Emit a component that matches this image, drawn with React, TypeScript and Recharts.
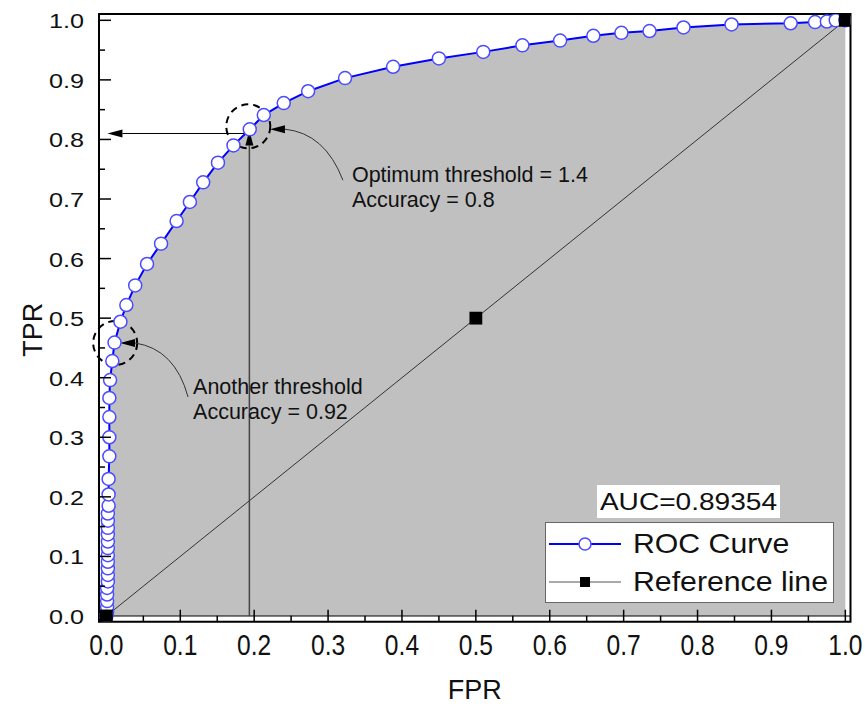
import React from "react";
import { ComposedChart, Area, Line, XAxis, YAxis, ReferenceLine, ReferenceDot, ReferenceArea, Legend, Label } from "recharts";

// ROC curve points (FPR, TPR)
const rocFpr = [
  0.0, 0.001, 0.001, 0.001, 0.001, 0.001, 0.002, 0.002, 0.002, 0.002, 0.002, 0.002, 0.002, 0.002, 0.002, 0.002,
  0.002, 0.003, 0.003, 0.003, 0.004, 0.004, 0.004, 0.004, 0.005, 0.008, 0.011, 0.019, 0.027, 0.039, 0.055, 0.074,
  0.095, 0.113, 0.131, 0.151, 0.172, 0.194, 0.213, 0.24, 0.273, 0.323, 0.388, 0.45, 0.51, 0.563, 0.614, 0.659,
  0.697, 0.735, 0.781, 0.846, 0.926, 0.959, 0.975, 0.987, 1.0,
];
const rocTpr = [
  0.0, 0.006, 0.015, 0.025, 0.036, 0.047, 0.058, 0.069, 0.08, 0.091, 0.102, 0.114, 0.125, 0.137, 0.148, 0.16,
  0.172, 0.185, 0.204, 0.23, 0.268, 0.3, 0.334, 0.366, 0.396, 0.428, 0.459, 0.494, 0.522, 0.555, 0.591, 0.625,
  0.663, 0.695, 0.728, 0.761, 0.79, 0.817, 0.841, 0.861, 0.881, 0.903, 0.922, 0.936, 0.947, 0.958, 0.966, 0.974,
  0.979, 0.982, 0.988, 0.993, 0.995, 0.997, 0.998, 1.0, 1.0,
];

const refFpr = [0, 0.5, 1];
const refTpr = [0, 0.5, 1];

const tickValues = [
  0, 0.05, 0.1, 0.15, 0.2, 0.25, 0.3, 0.35, 0.4, 0.45, 0.5, 0.55, 0.6, 0.65, 0.7, 0.75, 0.8, 0.85, 0.9, 0.95, 1,
];
const tickLabels = ["0.0", "0.1", "0.2", "0.3", "0.4", "0.5", "0.6", "0.7", "0.8", "0.9", "1.0"];

const optimum = { fpr: 0.1935, tpr: 0.815, arrowTpr: 0.81, circleFpr: 0.192, circleTpr: 0.822, tipFpr: 0.2213, tipTpr: 0.8172 };
const another = { circleFpr: 0.0119, circleTpr: 0.4583, tipFpr: 0.0185, tipTpr: 0.4583 };
const aucText = "AUC=0.89354";

const rocData = rocFpr.map((x, i) => ({ fpr: x, roc: rocTpr[i] }));
const refData = refFpr.map((x, i) => ({ fpr: x, ref: refTpr[i] }));

const FONT = "'Liberation Sans', Arial, sans-serif";

const labelFor = (v: number) => {
  const k = Math.round(v * 100);
  return k % 10 === 0 ? tickLabels[k / 10] : null;
};

const YTick = (p: any) => {
  const { x, y, payload } = p;
  const lab = labelFor(payload.value);
  return (
    <g>
      <line x1={x} y1={y} x2={x + (lab ? 12 : 6)} y2={y} stroke="#000" strokeWidth={1.5} />
      {lab && (
        <text transform={`translate(${x - 15},${y + 8}) scale(1.2,1)`} textAnchor="end" fontSize={21} fontFamily={FONT} fill="#111">
          {lab}
        </text>
      )}
    </g>
  );
};

const XTick = (p: any) => {
  const { x, y, payload } = p;
  const lab = labelFor(payload.value);
  return (
    <g>
      <line x1={x} y1={y} x2={x} y2={y - (lab ? 12 : 6)} stroke="#000" strokeWidth={1.5} />
      {lab && (
        <text transform={`translate(${x},${y + 33}) scale(0.82,1)`} textAnchor="middle" fontSize={30} fontFamily={FONT} fill="#111">
          {lab}
        </text>
      )}
    </g>
  );
};

const ArrowSeg = (p: any) => {
  const { x1, y1, x2, y2 } = p;
  const a = Math.atan2(y2 - y1, x2 - x1);
  const L = 15;
  const W = 4;
  const bx = x2 - L * Math.cos(a);
  const by = y2 - L * Math.sin(a);
  const px = -Math.sin(a) * W;
  const py = Math.cos(a) * W;
  return (
    <g>
      <line x1={x1} y1={y1} x2={bx} y2={by} stroke={p.stroke} strokeWidth={p.strokeWidth} />
      <polygon points={`${x2},${y2} ${bx + px},${by + py} ${bx - px},${by - py}`} fill="#000" />
    </g>
  );
};

const CurvedNote = (lines: string[], c: number[], end: number[], text: number[]) => (p: any) => {
  const { cx, cy } = p;
  return (
    <g>
      <polygon points={`${cx},${cy} ${cx + 15},${cy - 4} ${cx + 15},${cy + 4}`} fill="#000" />
      <path d={`M${cx + 15},${cy} Q${cx + c[0]},${cy + c[1]} ${cx + end[0]},${cy + end[1]}`} stroke="#333" strokeWidth={1} fill="none" />
      {lines.map((t, i) => (
        <text key={i} x={cx + text[0]} y={cy + text[1] + i * 25} fontSize={21.5} fontFamily={FONT} fill="#111">
          {t}
        </text>
      ))}
    </g>
  );
};

const Square = (p: any) => {
  const { cx, cy } = p;
  if (cx == null || cy == null) return <g />;
  return <rect x={cx - 6.4} y={cy - 6.4} width={12.8} height={12.8} fill="#000" />;
};

const LegendBox = () => (
  <div style={{ position: "relative", width: 292, height: 120, fontFamily: FONT, color: "#111" }}>
    <div style={{ position: "absolute", left: 52, top: 0, width: 183, height: 33, background: "#fff" }}>
      <div style={{ fontSize: 24, lineHeight: "33px", textAlign: "center", transform: "scaleX(1.17)" }}>{aucText}</div>
    </div>
    <div style={{ position: "absolute", left: 0, top: 37, width: 289, height: 81, background: "#fff", border: "1px solid #666", boxSizing: "border-box" }}>
      <svg width={80} height={80} style={{ position: "absolute", left: 0, top: 0 }}>
        <line x1={3} y1={21} x2={75} y2={21} stroke="#0000ff" strokeWidth={2} />
        <circle cx={39} cy={21} r={6} fill="#fff" stroke="#4b4bff" strokeWidth={1.5} />
        <line x1={3} y1={59} x2={75} y2={59} stroke="#555" strokeWidth={1} />
        <rect x={34} y={54} width={10} height={10} fill="#000" />
      </svg>
      <div style={{ position: "absolute", left: 87, top: 2, fontSize: 28, lineHeight: "38px", whiteSpace: "nowrap", transform: "scaleX(1.08)", transformOrigin: "left" }}>ROC Curve</div>
      <div style={{ position: "absolute", left: 87, top: 40, fontSize: 28, lineHeight: "38px", whiteSpace: "nowrap", transform: "scaleX(1.08)", transformOrigin: "left" }}>Reference line</div>
    </div>
  </div>
);

export default function App() {
  return (
    <div style={{ position: "absolute", left: 0, top: 0, background: "#fff" }}>
      <ComposedChart width={865} height={711} margin={{ top: 14, right: 14.5, left: 0, bottom: 0 }}>
        <XAxis
          type="number"
          dataKey="fpr"
          domain={[-0.01, 1.007]}
          allowDataOverflow
          ticks={tickValues}
          interval={0}
          tick={<XTick />}
          tickLine={false}
          tickSize={0}
          tickMargin={0}
          axisLine={false}
          height={89.3}
        >
          <Label value="FPR" position="insideBottom" offset={12} style={{ fontSize: 27, fontFamily: FONT, fill: "#111" }} />
        </XAxis>
        <YAxis
          type="number"
          domain={[-0.0096, 1.0106]}
          allowDataOverflow
          ticks={tickValues}
          interval={0}
          tick={<YTick />}
          tickLine={false}
          tickSize={0}
          tickMargin={0}
          axisLine={false}
          width={99}
        >
          <Label value="TPR" angle={-90} position="insideLeft" offset={32} dy={12} style={{ fontSize: 27, fontFamily: FONT, fill: "#111", textAnchor: "middle" }} />
        </YAxis>
        <Area
          data={rocData}
          type="linear"
          dataKey="roc"
          name="ROC Curve"
          baseValue={0}
          stroke="#0000ff"
          strokeWidth={2}
          fill="#c0c0c0"
          fillOpacity={1}
          dot={{ r: 6.5, fill: "#fff", stroke: "#4b4bff", strokeWidth: 1.5 }}
          activeDot={false}
          isAnimationActive={false}
        />
        <Line
          data={refData}
          type="linear"
          dataKey="ref"
          name="Reference line"
          stroke="#333"
          strokeWidth={1}
          dot={<Square />}
          activeDot={false}
          isAnimationActive={false}
        />
        <ReferenceLine y={0} stroke="#000" strokeWidth={1.2} />
        <ReferenceLine
          segment={[{ x: optimum.fpr, y: 0 }, { x: optimum.fpr, y: optimum.tpr }]}
          stroke="#444"
          strokeWidth={1.5}
          shape={ArrowSeg}
        />
        <ReferenceLine
          segment={[{ x: optimum.fpr, y: optimum.arrowTpr }, { x: 0.0014, y: optimum.arrowTpr }]}
          stroke="#000"
          strokeWidth={1}
          shape={ArrowSeg}
        />
        <ReferenceDot x={optimum.circleFpr} y={optimum.circleTpr} r={22} fill="none" stroke="#000" strokeWidth={2} strokeDasharray="7 5" />
        <ReferenceDot x={another.circleFpr} y={another.circleTpr} r={22} fill="none" stroke="#000" strokeWidth={2} strokeDasharray="7 5" />
        <ReferenceDot
          x={optimum.tipFpr}
          y={optimum.tipTpr}
          r={1}
          shape={CurvedNote(["Optimum threshold = 1.4", "Accuracy = 0.8"], [55, 4], [73, 51], [82, 53])}
        />
        <ReferenceDot
          x={another.tipFpr}
          y={another.tipTpr}
          r={1}
          shape={CurvedNote(["Another threshold", "Accuracy = 0.92"], [55, 6], [68, 54], [73, 51])}
        />
        <ReferenceArea x1={-0.01} x2={1.007} y1={-0.0096} y2={1.0106} fill="none" stroke="#000" strokeWidth={2} ifOverflow="visible" />
        <Legend
          layout="horizontal"
          verticalAlign="middle"
          align="center"
          wrapperStyle={{ left: 545, top: 485, width: 292 }}
          content={<LegendBox />}
        />
      </ComposedChart>
    </div>
  );
}
